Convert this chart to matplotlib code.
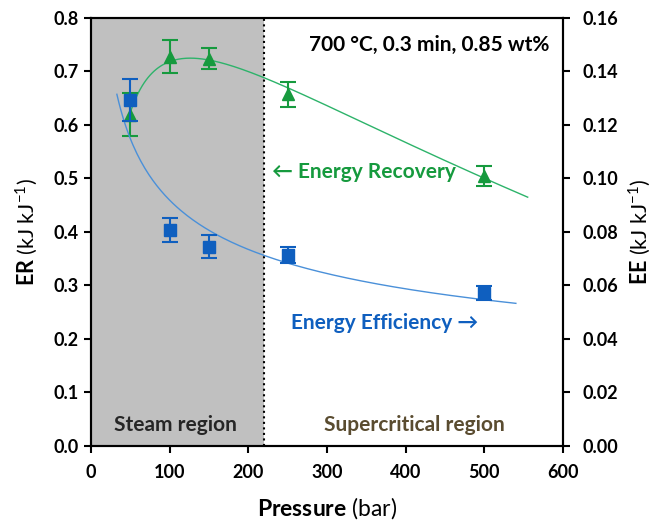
import numpy as np
import matplotlib.pyplot as plt

plt.rcParams['font.family'] = ['Lato', 'DejaVu Sans']
plt.rcParams['mathtext.fontset'] = 'custom'
plt.rcParams['mathtext.rm'] = 'Lato'
plt.rcParams['mathtext.bf'] = 'Lato:bold'

# Data
pressure = np.array([50, 100, 150, 250, 500])
er = np.array([0.619, 0.728, 0.724, 0.657, 0.505])
er_err = np.array([0.040, 0.031, 0.019, 0.023, 0.019])
ee = np.array([0.1294, 0.0808, 0.0744, 0.0714, 0.0572])
ee_err = np.array([0.0078, 0.0045, 0.0043, 0.0030, 0.0025])

green = '#169a3e'
blue = '#0f5fbf'

fig = plt.figure(figsize = (6.54, 5.22), dpi = 100)
ax = fig.add_axes([0.139, 0.146, 0.722, 0.8195])
ax2 = ax.twinx()

# steam region shading + critical pressure line
ax.axvspan(0, 220, color = '#c0c0c0', zorder = 0, lw = 0)
ax.axvline(220, color = 'black', ls = ':', lw = 1.5, zorder = 1)

# trend lines (fit to data)
c_er = np.polyfit(np.log(pressure), er, 2)
xg = np.linspace(50, 555, 200)
ax.plot(xg, np.polyval(c_er, np.log(xg)), color = '#2db36a', lw = 1, zorder = 2)

c_ee = np.polyfit(np.log(pressure), np.log(ee), 1)
xb = np.linspace(33, 540, 200)
ax2.plot(xb, np.exp(np.polyval(c_ee, np.log(xb))), color = '#4a90d9', lw = 1, zorder = 2)

ax.errorbar(pressure, er, yerr = er_err, fmt = '^', color = green, ms = 9,
            capsize = 6, elinewidth = 1.5, capthick = 1.5, zorder = 3)
ax2.errorbar(pressure, ee, yerr = ee_err, fmt = 's', color = blue, ms = 9,
             capsize = 6, elinewidth = 1.5, capthick = 1.5, zorder = 3)

ax.set_xlim(0, 600)
ax.set_ylim(0, 0.8)
ax2.set_ylim(0, 0.16)
ax.set_xticks(np.arange(0, 601, 100))
ax.set_yticks(np.arange(0, 0.81, 0.1))
ax2.set_yticks(np.arange(0, 0.161, 0.02))
ax.set_yticklabels(['%.1f' % v for v in np.arange(0, 0.81, 0.1)])
ax2.set_yticklabels(['%.2f' % v for v in np.arange(0, 0.161, 0.02)])

for a in (ax, ax2):
    for s in a.spines.values():
        s.set_linewidth(1.5)
    a.tick_params(width = 1.5, length = 5, labelsize = 13)
    for lab in a.get_xticklabels() + a.get_yticklabels():
        lab.set_fontweight('bold')
ax.tick_params(axis = 'x', pad = 8)
ax2.tick_params(axis = 'y', pad = 9)

ax.set_xlabel(r'$\mathbf{Pressure}$ (bar)', fontsize = 16.5, labelpad = 10)
ax.set_ylabel(r'$\mathbf{ER}$ (kJ kJ$^{-1}$)', fontsize = 15.5, labelpad = 10)
ax2.set_ylabel(r'$\mathbf{EE}$ (kJ kJ$^{-1}$)', fontsize = 15.5, labelpad = 6)

ax.text(0.972, 0.937, '700 °C, 0.3 min, 0.85 wt%', transform = ax.transAxes,
        ha = 'right', va = 'center', fontsize = 15, fontweight = 'bold')
ax.text(0.383, 0.64, '\u2190 Energy Recovery', transform = ax.transAxes,
        ha = 'left', va = 'center', fontsize = 15, fontweight = 'bold', color = green,
        family = ['Lato', 'DejaVu Sans'])
ax.text(0.82, 0.287, 'Energy Efficiency \u2192', transform = ax.transAxes,
        ha = 'right', va = 'center', fontsize = 15, fontweight = 'bold', color = blue,
        family = ['Lato', 'DejaVu Sans'])
ax.text(0.178, 0.049, 'Steam region', transform = ax.transAxes,
        ha = 'center', va = 'center', fontsize = 15, fontweight = 'bold', color = '#262626')
ax.text(0.686, 0.049, 'Supercritical region', transform = ax.transAxes,
        ha = 'center', va = 'center', fontsize = 15, fontweight = 'bold', color = '#5a4c30')

plt.savefig('out.png')
